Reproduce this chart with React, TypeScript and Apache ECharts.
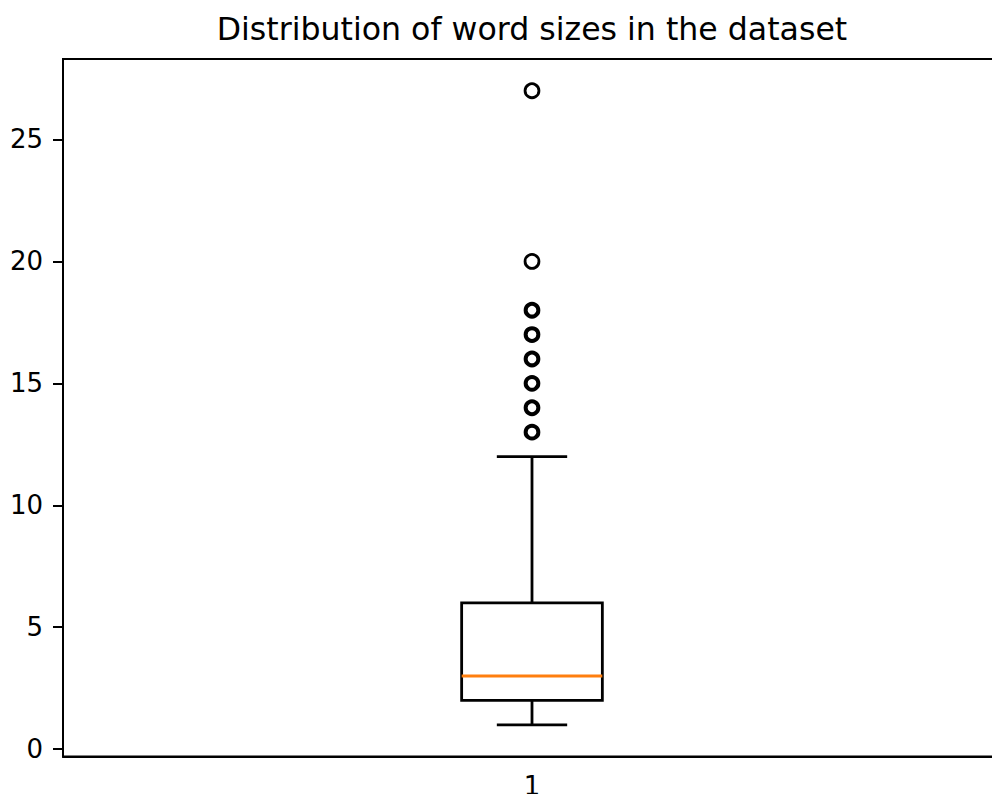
import React, { useEffect, useRef } from "react";
import * as echarts from "echarts";

const categories = ["1"];
const whiskerLow = [1];
const q1 = [2];
const median = [3];
const q3 = [6];
const whiskerHigh = [12];
const fliers = [13, 14, 15, 16, 17, 18, 20, 27];
const flierRepeated = [true, true, true, true, true, true, false, false];
const yTicks = [0, 5, 10, 15, 20, 25];
const titleText = "Distribution of word sizes in the dataset";

const FONT = "DejaVu Sans";

export default function App() {
  const ref = useRef<HTMLDivElement>(null);
  useEffect(() => {
    if (!ref.current) return;
    const chart = echarts.init(ref.current, null, { renderer: "svg" });
    const boxData = categories.map((_, i) => [
      i,
      whiskerLow[i],
      q1[i],
      median[i],
      q3[i],
      whiskerHigh[i],
    ]);
    chart.setOption({
      animation: false,
      backgroundColor: "#fff",
      title: {
        text: titleText,
        left: 532,
        top: 13,
        padding: 0,
        textAlign: "center",
        textStyle: { fontFamily: FONT, fontSize: 31.6, fontWeight: "normal", color: "#000" },
      },
      grid: {
        left: 63,
        top: 59,
        width: 938,
        height: 697.5,
        outerBoundsMode: "none",
        containLabel: false,
        show: true,
        borderColor: "#000",
        borderWidth: 2,
        backgroundColor: "transparent",
      },
      xAxis: {
        type: "category",
        data: categories,
        boundaryGap: true,
        axisLine: { onZero: false, lineStyle: { color: "#000", width: 2 } },
        axisTick: { alignWithLabel: true, length: 10, lineStyle: { color: "#000", width: 2 } },
        axisLabel: { margin: 16, fontFamily: FONT, fontSize: 26, color: "#000" },
        splitLine: { show: false },
      },
      yAxis: {
        type: "value",
        min: -0.3,
        max: 28.3,
        axisLine: { show: true, onZero: false, lineStyle: { color: "#000", width: 2 } },
        axisTick: { show: true, length: 10, customValues: yTicks, lineStyle: { color: "#000", width: 2 } },
        axisLabel: { margin: 20, customValues: yTicks, fontFamily: FONT, fontSize: 26, color: "#000" },
        splitLine: { show: false },
      },
      series: [
        {
          type: "custom",
          data: boxData,
          encode: { x: 0, y: [1, 2, 3, 4, 5] },
          renderItem: (params: any, api: any) => {
            const x = api.value(0);
            const lo = api.coord([x, api.value(1)]);
            const pq1 = api.coord([x, api.value(2)]);
            const pm = api.coord([x, api.value(3)]);
            const pq3 = api.coord([x, api.value(4)]);
            const hi = api.coord([x, api.value(5)]);
            const band = api.size([1, 0])[0];
            const hw = (band * 0.15) / 2;
            const cw = hw / 2;
            const cx = pq1[0];
            const st = { stroke: "#000", lineWidth: 2.8, fill: "none" };
            return {
              type: "group",
              children: [
                { type: "line", shape: { x1: cx, y1: pq1[1], x2: cx, y2: lo[1] }, style: st },
                { type: "line", shape: { x1: cx, y1: pq3[1], x2: cx, y2: hi[1] }, style: st },
                { type: "line", shape: { x1: cx - cw, y1: lo[1], x2: cx + cw, y2: lo[1] }, style: st },
                { type: "line", shape: { x1: cx - cw, y1: hi[1], x2: cx + cw, y2: hi[1] }, style: st },
                {
                  type: "rect",
                  shape: { x: cx - hw, y: pq3[1], width: 2 * hw, height: pq1[1] - pq3[1] },
                  style: { stroke: "#000", lineWidth: 2.8, fill: "rgba(0,0,0,0)" },
                },
                {
                  type: "line",
                  shape: { x1: cx - hw, y1: pm[1], x2: cx + hw, y2: pm[1] },
                  style: { stroke: "#ff7f0e", lineWidth: 2.8 },
                },
              ],
            };
          },
          z: 2,
        },
        {
          type: "scatter",
          symbol: "circle",
          data: fliers.map((v, i) => {
            const bw = flierRepeated[i] ? 4.0 : 2.8;
            return {
              value: [0, v],
              symbolSize: 16.7 - bw,
              itemStyle: { borderWidth: bw },
            };
          }),
          itemStyle: { color: "rgba(0,0,0,0)", borderColor: "#000", opacity: 1 },
          z: 3,
        },
      ],
    });
    return () => chart.dispose();
  }, []);
  return (
    <div style={{ position: "fixed", left: 0, top: 0, width: 992, height: 794, overflow: "hidden", background: "#fff" }}>
      <div ref={ref} style={{ width: 1020, height: 794 }} />
    </div>
  );
}
